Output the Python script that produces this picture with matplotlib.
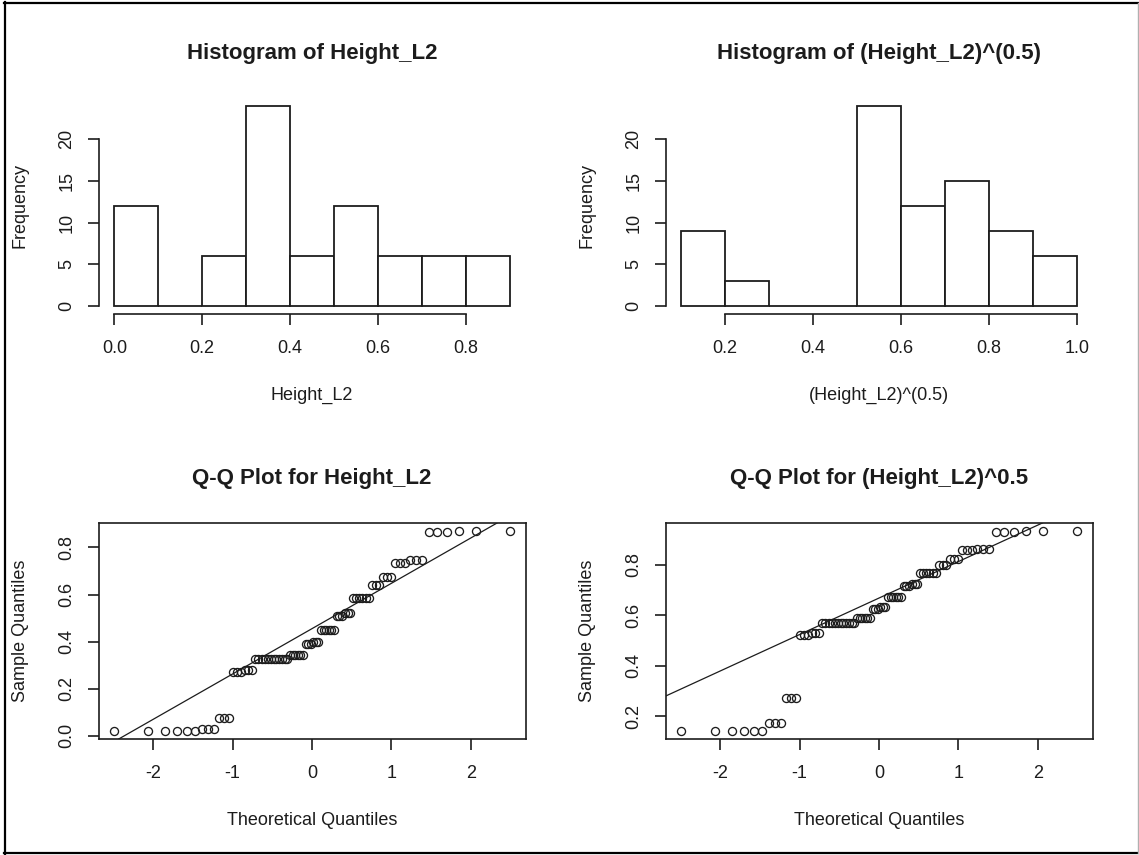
import numpy as np
import matplotlib
matplotlib.use("Agg")
import matplotlib.pyplot as plt
from matplotlib.lines import Line2D
from matplotlib.ticker import FormatStrFormatter, FixedLocator
from statistics import NormalDist

plt.rcParams['font.family'] = ['Liberation Sans', 'DejaVu Sans']

# ---------------- data ----------------
hist_edges_raw = [0.0, 0.1, 0.2, 0.3, 0.4, 0.5, 0.6, 0.7, 0.8, 0.9]
hist_counts_raw = [12, 0, 6, 24, 6, 12, 6, 6, 6]

hist_edges_sqrt = [0.1, 0.2, 0.3, 0.4, 0.5, 0.6, 0.7, 0.8, 0.9, 1.0]
hist_counts_sqrt = [9, 3, 0, 0, 24, 12, 15, 9, 6]

# distinct Height_L2 values and how many times each occurs (n = 78)
sample_values = [0.02, 0.03, 0.075, 0.27, 0.28, 0.325, 0.345, 0.39, 0.40, 0.45,
                 0.51, 0.52, 0.585, 0.64, 0.675, 0.735, 0.745, 0.865, 0.87]
sample_counts = [6, 3, 3, 3, 3, 12, 6, 3, 3, 6,
                 3, 3, 6, 3, 3, 3, 3, 3, 3]

titles = ["Histogram of Height_L2", "Histogram of (Height_L2)^(0.5)",
          "Q-Q Plot for Height_L2", "Q-Q Plot for (Height_L2)^0.5"]
xlabels = ["Height_L2", "(Height_L2)^(0.5)", "Theoretical Quantiles", "Theoretical Quantiles"]
ylabels = ["Frequency", "Frequency", "Sample Quantiles", "Sample Quantiles"]
hist_xticks_raw = [0.0, 0.2, 0.4, 0.6, 0.8]
hist_xticks_sqrt = [0.2, 0.4, 0.6, 0.8, 1.0]
hist_yticks = [0, 5, 10, 15, 20]
qq_xticks = [-2, -1, 0, 1, 2]
qq_yticks_raw = [0.0, 0.2, 0.4, 0.6, 0.8]
qq_yticks_sqrt = [0.2, 0.4, 0.6, 0.8]

# ---------------- derived ----------------
height = np.sort(np.repeat(sample_values, sample_counts))
height_sqrt = np.sqrt(height)
n = len(height)
nd = NormalDist()
probs = (np.arange(1, n + 1) - 0.5) / n
theo = np.array([nd.inv_cdf(p) for p in probs])

INK = "#1c1c1c"
W, H = 1139, 855
fig = plt.figure(figsize=(W / 100, H / 100), dpi=100)

AX_W, AX_H = 427.0, 216.0
lefts = [98.5, 665.5]
tops = [98.0, 523.0]


def make_ax(col, row):
    l = lefts[col]
    t = tops[row]
    return fig.add_axes([l / W, (H - t - AX_H) / H, AX_W / W, AX_H / H])


def pad_range(lo, hi, f=0.04):
    d = (hi - lo) * f
    return lo - d, hi + d


def style_common(ax, title, xlabel, ylabel):
    ax.tick_params(axis='both', direction='out', length=8.2, width=1.2,
                   color=INK, labelcolor=INK, labelsize=13)
    ax.tick_params(axis='x', pad=10.8)
    ax.tick_params(axis='y', pad=8.5, labelrotation=90)
    for lab in ax.get_yticklabels():
        lab.set_va('center')
    ax.set_title(title, fontsize=16, fontweight='bold', color=INK,
                 va='center', pad=0, y=261.0 / AX_H)
    ax.set_xlabel(xlabel, fontsize=13, color=INK, va='center')
    ax.xaxis.set_label_coords(0.5, -81.0 / AX_H)
    ax.set_ylabel(ylabel, fontsize=13, color=INK, va='center')
    ax.yaxis.set_label_coords(-78.5 / AX_W, 0.5)


def draw_hist(ax, edges, counts, xticks, title, xlabel, ylabel):
    edges = np.asarray(edges)
    ax.bar(edges[:-1], counts, width=np.diff(edges), align='edge',
           facecolor='white', edgecolor=INK, linewidth=1.3)
    ax.set_xlim(*pad_range(edges[0], edges[-1]))
    ax.set_ylim(*pad_range(0, max(counts)))
    ax.xaxis.set_major_locator(FixedLocator(xticks))
    ax.xaxis.set_major_formatter(FormatStrFormatter('%.1f'))
    ax.yaxis.set_major_locator(FixedLocator(hist_yticks))
    ax.yaxis.set_major_formatter(FormatStrFormatter('%d'))
    for s in ['top', 'right']:
        ax.spines[s].set_visible(False)
    ax.spines['left'].set_bounds(hist_yticks[0], hist_yticks[-1])
    ax.spines['bottom'].set_bounds(xticks[0], xticks[-1])
    for s in ['left', 'bottom']:
        ax.spines[s].set_linewidth(1.2)
        ax.spines[s].set_color(INK)
    style_common(ax, title, xlabel, ylabel)


def draw_qq(ax, sample, yticks, title, xlabel, ylabel):
    ax.plot(theo, sample, linestyle='none', marker='o', markerfacecolor='none',
            markeredgecolor=INK, markersize=5.8, markeredgewidth=0.95)
    qs = np.quantile(sample, [0.25, 0.75])
    qt = np.array([nd.inv_cdf(0.25), nd.inv_cdf(0.75)])
    slope = (qs[1] - qs[0]) / (qt[1] - qt[0])
    ax.axline((qt[0], qs[0]), slope=slope, color=INK, linewidth=0.9)
    ax.set_xlim(*pad_range(theo.min(), theo.max()))
    ax.set_ylim(*pad_range(sample.min(), sample.max()))
    ax.xaxis.set_major_locator(FixedLocator(qq_xticks))
    ax.xaxis.set_major_formatter(FormatStrFormatter('%d'))
    ax.yaxis.set_major_locator(FixedLocator(yticks))
    ax.yaxis.set_major_formatter(FormatStrFormatter('%.1f'))
    for s in ax.spines.values():
        s.set_linewidth(1.2)
        s.set_color(INK)
    style_common(ax, title, xlabel, ylabel)


ax1 = make_ax(0, 0)
draw_hist(ax1, hist_edges_raw, hist_counts_raw, hist_xticks_raw,
          titles[0], xlabels[0], ylabels[0])
ax2 = make_ax(1, 0)
draw_hist(ax2, hist_edges_sqrt, hist_counts_sqrt, hist_xticks_sqrt,
          titles[1], xlabels[1], ylabels[1])
ax3 = make_ax(0, 1)
draw_qq(ax3, height, qq_yticks_raw, titles[2], xlabels[2], ylabels[2])
ax4 = make_ax(1, 1)
draw_qq(ax4, height_sqrt, qq_yticks_sqrt, titles[3], xlabels[3], ylabels[3])


# screenshot frame
def fline(x0, y0, x1, y1, color, lw):
    fig.add_artist(Line2D([x0 / W, x1 / W], [1 - y0 / H, 1 - y1 / H],
                          transform=fig.transFigure, color=color, linewidth=lw))


fline(4.5, 2.5, 4.5, 854, 'black', 1.6)
fline(3.5, 3.5, 1139, 3.5, 'black', 1.6)
fline(3.5, 853, 1139, 853, 'black', 1.6)
fline(1138, 3, 1138, 853, '#b0b0b0', 1.0)

fig.savefig("out.png", dpi=100, facecolor='white')
